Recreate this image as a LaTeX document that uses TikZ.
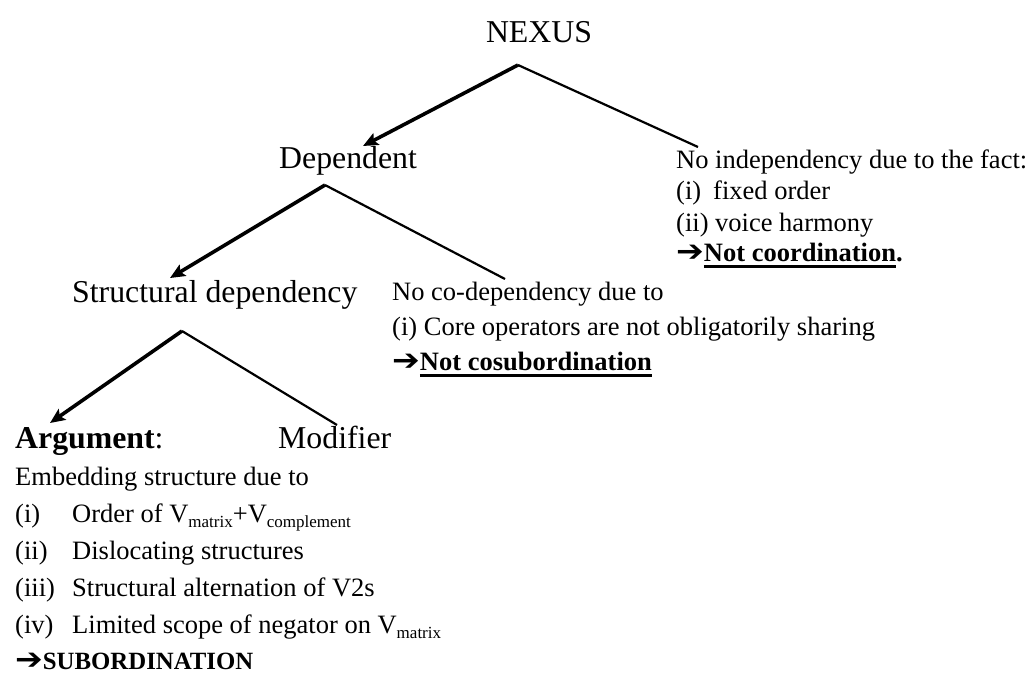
\documentclass[tikz,border=0pt]{standalone}
\usepackage{fontspec}
\usepackage{graphicx}
\setmainfont{Liberation Serif}
\newfontfamily\symfont{DejaVu Sans}
\usetikzlibrary{arrows.meta}

% type sizes
\newcommand\labelsize{\fontsize{31.8}{36}\selectfont}
\newcommand\notesize{\fontsize{26.5}{30}\selectfont}
\newcommand\subsize{\fontsize{17}{18}\selectfont}
% lowered small index, as in V_matrix
\newcommand\vsub[1]{\raisebox{-5pt}{\subsize #1}}
% conclusion arrow
\newcommand\concl{\scalebox{1.25}[1.12]{\symfont\bfseries\char"2794}}
% heavy underline
\newcommand\thickul[1]{\setbox0\hbox{#1}\rlap{\rule[-6.5pt]{\wd0}{2.4pt}}\box0}
% hanging item number
\newcommand\itemno[1]{\makebox[57pt][l]{#1}}

\tikzset{
  treelabel/.style={inner sep=0pt, font=\labelsize, anchor=base west},
  note/.style={inner sep=0pt, font=\notesize, anchor=base west},
  sidebranch/.style={line width=2.2pt},
  mainbranch/.style={line width=3.6pt, -{Stealth[length=15pt,width=13pt,inset=3pt]}},
}

\begin{document}
\begin{tikzpicture}[x=1pt, y=-1pt]
\useasboundingbox (0,0) rectangle (1031,675);

% ---- top level ----
\node[treelabel, anchor=base] (nexus) at (539,42) {NEXUS};
\coordinate (nexus-fork) at (518,65);
\coordinate (dep-top) at (363,146);
\coordinate (noindep-top) at (698,147);
\draw[mainbranch] (nexus-fork) -- (dep-top);
\draw[sidebranch] (nexus-fork) -- (noindep-top);

\node[treelabel] (dependent) at (279,168) {Dependent};
\node[note] (ni1) at (676,168) {No independency due to the fact:};
\node[note] (ni2) at (676,199) {(i)\hspace{12pt}fixed order};
\node[note] (ni3) at (676,231) {(ii) voice harmony};
\node[note] (ni4) at (676,261) {\concl\textbf{\thickul{Not coordination}.}};

% ---- second level ----
\coordinate (dep-fork) at (325,185);
\coordinate (struct-top) at (170,278);
\coordinate (nocodep-top) at (505,279);
\draw[mainbranch] (dep-fork) -- (struct-top);
\draw[sidebranch] (dep-fork) -- (nocodep-top);

\node[treelabel] (structural) at (72,302) {Structural dependency};
\node[note] (nc1) at (392,300) {No co-dependency due to};
\node[note] (nc2) at (392,335) {(i) Core operators are not obligatorily sharing};
\node[note] (nc3) at (392,370) {\concl\textbf{\thickul{Not cosubordination}}};

% ---- third level ----
\coordinate (struct-fork) at (182,331);
\coordinate (arg-top) at (50,423);
\coordinate (mod-top) at (337,425);
\draw[mainbranch] (struct-fork) -- (arg-top);
\draw[sidebranch] (struct-fork) -- (mod-top);

\node[treelabel] (argument) at (15,448) {\textbf{Argument}:};
\node[treelabel] (modifier) at (278,448) {Modifier};
\node[note] (emb) at (15,485) {Embedding structure due to};
\node[note] (r1) at (15,522) {\itemno{(i)}Order of V\vsub{matrix}+V\vsub{complement}};
\node[note] (r2) at (15,559) {\itemno{(ii)}Dislocating structures};
\node[note] (r3) at (15,596) {\itemno{(iii)}Structural alternation of V2s};
\node[note] (r4) at (15,633) {\itemno{(iv)}Limited scope of negator on V\vsub{matrix}};
\node[note] (subord) at (15,669) {\concl\fontsize{24.8}{28}\selectfont\bfseries SUBORDINATION};
\end{tikzpicture}
\end{document}
